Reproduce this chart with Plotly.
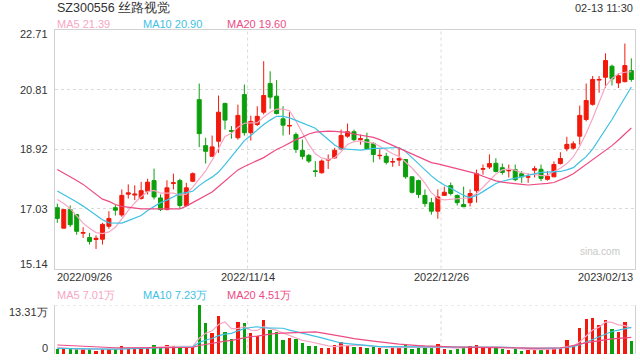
import plotly.graph_objects as go

# ---------------- data ----------------
title_text = "SZ300556 丝路视觉"
time_text = "02-13 11:30"
date_labels = ["2022/09/26", "2022/11/14", "2022/12/26", "2023/02/13"]
date_label_idx = [0, 30, 60, 89]
price_ticks = [15.14, 17.03, 18.92, 20.81, 22.71]
vol_ticks = [0, 13.31]

opens = [17.07, 16.42, 17.01, 16.85, 16.26, 16.12, 16.06, 16.07, 16.48, 17.07,
         16.84, 17.50, 17.47, 17.36, 17.59, 17.93, 17.38, 17.01, 17.84, 17.93,
         17.14, 17.91, 20.50, 19.04, 18.70, 19.18, 20.38, 19.52, 19.29, 20.66,
         19.45, 19.71, 20.10, 21.01, 20.61, 19.89, 19.66, 19.39, 18.89, 18.73,
         18.24, 18.18, 18.58, 18.65, 18.94, 19.34, 19.48, 19.23, 19.23, 19.11,
         18.72, 18.70, 18.52, 18.58, 18.60, 18.05, 17.93, 17.46, 17.23, 16.96,
         17.46, 17.77, 17.46, 17.17, 17.23, 17.61, 18.29, 18.36, 18.48, 18.34,
         18.24, 18.28, 18.15, 18.04, 18.26, 18.29, 17.97, 18.05, 18.47, 18.94,
         18.96, 19.34, 19.87, 20.35, 21.12, 21.21, 21.56, 21.03, 21.07, 21.42]
highs = [17.20, 17.03, 17.14, 16.85, 16.45, 16.27, 16.19, 16.59, 16.96, 17.16,
         17.65, 17.81, 17.78, 17.89, 17.99, 18.31, 17.49, 17.94, 18.15, 17.99,
         17.86, 18.19, 21.01, 19.29, 19.36, 20.63, 20.40, 19.66, 20.34, 20.98,
         19.99, 20.29, 21.72, 21.40, 21.12, 20.29, 20.10, 19.46, 19.23, 18.78,
         18.55, 18.60, 18.76, 18.97, 19.55, 19.74, 19.55, 19.39, 19.45, 19.15,
         18.92, 18.81, 18.65, 18.94, 18.60, 18.07, 17.96, 17.65, 17.38, 17.65,
         17.74, 17.87, 17.49, 17.74, 17.65, 18.28, 18.44, 18.76, 18.64, 18.47,
         18.44, 18.44, 18.23, 18.16, 18.39, 18.44, 18.23, 18.54, 18.83, 19.32,
         19.18, 20.31, 21.01, 21.25, 21.25, 21.97, 21.61, 21.34, 22.28, 21.81]
lows = [16.59, 16.42, 16.46, 16.21, 16.11, 15.90, 15.76, 15.90, 16.40, 16.82,
        16.78, 17.36, 17.31, 17.33, 17.49, 17.33, 16.96, 16.99, 17.65, 17.03,
        17.12, 17.88, 18.99, 18.47, 18.68, 18.81, 19.55, 19.26, 19.23, 19.36,
        19.20, 19.66, 20.03, 20.21, 20.03, 19.36, 19.39, 18.81, 18.60, 18.49,
        18.05, 18.15, 18.30, 18.62, 18.89, 19.29, 19.15, 19.07, 18.92, 18.51,
        18.60, 18.44, 18.37, 18.39, 17.99, 17.52, 17.38, 17.10, 16.85, 16.72,
        17.46, 17.46, 17.14, 17.10, 17.11, 17.23, 18.12, 18.30, 18.19, 18.12,
        18.03, 17.91, 17.86, 17.86, 18.03, 17.91, 17.93, 18.04, 18.44, 18.86,
        18.92, 19.07, 19.81, 20.31, 20.72, 20.87, 20.95, 20.87, 21.05, 21.07]
closes = [16.73, 17.01, 16.53, 16.32, 16.28, 16.00, 16.10, 16.54, 16.73, 16.99,
          17.46, 17.54, 17.50, 17.61, 17.88, 17.41, 17.01, 17.70, 17.86, 17.14,
          17.70, 18.15, 19.42, 18.86, 19.00, 20.10, 19.85, 19.49, 20.00, 19.45,
          19.81, 19.97, 20.63, 20.58, 20.06, 19.69, 19.68, 18.92, 18.70, 18.55,
          18.22, 18.55, 18.60, 18.89, 19.36, 19.48, 19.23, 19.26, 18.94, 18.76,
          18.73, 18.51, 18.53, 18.63, 18.05, 17.56, 17.49, 17.20, 16.96, 17.41,
          17.56, 17.52, 17.23, 17.10, 17.52, 18.15, 18.31, 18.47, 18.22, 18.19,
          18.25, 17.96, 18.05, 18.05, 18.31, 18.00, 18.07, 18.44, 18.63, 19.08,
          19.10, 20.00, 20.47, 21.14, 21.14, 21.74, 21.16, 21.26, 21.58, 21.14]

ma5 = [17.33, 17.20, 17.04, 16.82, 16.58, 16.42, 16.28, 16.25, 16.30, 16.45,
       16.72, 16.98, 17.22, 17.42, 17.58, 17.62, 17.53, 17.53, 17.53, 17.47,
       17.50, 17.72, 17.98, 18.24, 18.58, 18.95, 19.33, 19.43, 19.62, 19.75,
       19.75, 19.77, 19.95, 20.10, 20.20, 20.20, 20.15, 19.82, 19.44, 19.08,
       18.78, 18.65, 18.60, 18.66, 18.84, 19.08, 19.17, 19.19, 19.15, 19.12,
       19.02, 18.90, 18.78, 18.70, 18.53, 18.33, 18.10, 17.85, 17.55, 17.36,
       17.32, 17.33, 17.35, 17.37, 17.39, 17.52, 17.72, 17.94, 18.14, 18.27,
       18.30, 18.26, 18.18, 18.14, 18.13, 18.09, 18.10, 18.22, 18.32, 18.47,
       18.68, 19.02, 19.43, 19.90, 20.42, 20.92, 21.17, 21.32, 21.37, 21.39]
ma10 = [17.60, 17.49, 17.37, 17.25, 17.12, 16.98, 16.84, 16.69, 16.59, 16.58,
        16.58, 16.66, 16.74, 16.82, 16.98, 17.11, 17.23, 17.31, 17.41, 17.52,
        17.55, 17.59, 17.77, 17.92, 18.04, 18.20, 18.44, 18.69, 18.95, 19.20,
        19.36, 19.55, 19.71, 19.85, 19.97, 19.97, 19.92, 19.84, 19.76, 19.68,
        19.59, 19.41, 19.23, 19.06, 18.94, 18.92, 18.90, 18.90, 18.92, 18.95,
        18.95, 18.96, 18.97, 18.98, 18.85, 18.65, 18.46, 18.27, 18.08, 17.92,
        17.79, 17.69, 17.58, 17.46, 17.39, 17.46, 17.58, 17.72, 17.84, 17.91,
        17.96, 18.01, 18.06, 18.11, 18.16, 18.19, 18.20, 18.21, 18.22, 18.27,
        18.34, 18.52, 18.69, 18.93, 19.24, 19.55, 19.87, 20.22, 20.57, 20.90]
ma20 = [18.28, 18.17, 18.06, 17.93, 17.81, 17.65, 17.49, 17.34, 17.27, 17.17,
        17.11, 17.08, 17.04, 17.03, 17.03, 17.03, 17.03, 17.03, 17.03, 17.03,
        17.12, 17.23, 17.34, 17.46, 17.57, 17.74, 17.92, 18.09, 18.27, 18.38,
        18.47, 18.57, 18.66, 18.79, 18.92, 19.01, 19.12, 19.23, 19.31, 19.41,
        19.47, 19.49, 19.50, 19.49, 19.47, 19.46, 19.41, 19.38, 19.35, 19.30,
        19.23, 19.14, 19.04, 18.96, 18.87, 18.77, 18.68, 18.58, 18.50, 18.46,
        18.41, 18.36, 18.31, 18.27, 18.22, 18.15, 18.07, 18.00, 17.92, 17.88,
        17.85, 17.82, 17.81, 17.79, 17.80, 17.81, 17.84, 17.87, 17.95, 18.04,
        18.15, 18.30, 18.44, 18.60, 18.73, 18.88, 19.04, 19.22, 19.41, 19.60]

volumes = [1.27, 1.27, 1.27, 1.54, 1.27, 1.27, 0.90, 1.27, 1.27, 1.27,
           2.17, 1.72, 1.72, 1.72, 1.72, 2.44, 1.72, 2.44, 2.17, 1.99,
           1.72, 1.99, 13.31, 8.50, 5.62, 10.32, 5.89, 4.07, 8.69, 8.33,
           5.78, 4.89, 9.23, 6.52, 6.06, 3.80, 4.26, 3.99, 3.07, 2.17,
           2.17, 1.72, 1.72, 2.44, 3.35, 2.26, 1.99, 1.99, 1.72, 1.99,
           1.72, 1.45, 1.72, 1.72, 2.35, 1.45, 1.72, 1.54, 1.54, 2.72,
           1.45, 1.09, 1.45, 1.72, 2.26, 2.44, 1.72, 1.99, 1.72, 1.45,
           1.18, 1.45, 0.90, 1.09, 1.45, 1.09, 1.45, 1.72, 1.72, 3.80,
           2.44, 6.98, 9.42, 9.86, 7.88, 9.23, 6.79, 6.06, 8.69, 3.53]
vol_ma5 = [1.80, 1.60, 1.40, 1.35, 1.30, 1.30, 1.20, 1.20, 1.20, 1.20,
           1.40, 1.50, 1.60, 1.80, 1.80, 1.90, 1.90, 2.00, 2.10, 2.10,
           2.10, 2.10, 4.30, 5.60, 6.30, 8.00, 8.70, 6.90, 6.90, 7.40,
           6.50, 6.40, 7.40, 7.00, 6.40, 5.70, 5.00, 4.20, 3.70, 3.40,
           3.10, 2.60, 2.20, 2.00, 2.20, 2.30, 2.30, 2.40, 2.30, 2.00,
           1.90, 1.80, 1.70, 1.70, 1.80, 1.70, 1.80, 1.80, 1.70, 1.90,
           1.80, 1.60, 1.60, 1.70, 1.80, 1.80, 1.90, 2.00, 2.00, 1.90,
           1.60, 1.50, 1.40, 1.20, 1.20, 1.20, 1.20, 1.40, 1.50, 2.00,
           2.20, 3.30, 4.90, 6.50, 7.30, 8.70, 8.60, 7.90, 7.70, 7.01]
vol_ma10 = [1.55, 1.50, 1.45, 1.40, 1.40, 1.35, 1.30, 1.30, 1.30, 1.30,
            1.35, 1.40, 1.45, 1.50, 1.55, 1.65, 1.70, 1.80, 1.85, 1.90,
            1.90, 1.95, 3.10, 3.80, 4.20, 5.00, 5.40, 5.60, 6.30, 6.90,
            7.20, 7.40, 7.10, 7.00, 7.00, 7.00, 6.50, 6.10, 5.80, 5.40,
            5.00, 4.40, 3.90, 3.40, 3.00, 2.80, 2.60, 2.40, 2.30, 2.20,
            2.00, 2.00, 2.00, 1.90, 1.90, 1.90, 1.90, 1.80, 1.80, 1.90,
            1.90, 1.80, 1.80, 1.80, 1.80, 1.80, 1.85, 1.85, 1.85, 1.90,
            1.80, 1.70, 1.60, 1.60, 1.55, 1.55, 1.55, 1.60, 1.65, 1.80,
            2.00, 2.50, 3.20, 4.10, 4.70, 5.50, 6.10, 6.50, 6.90, 7.23]
vol_ma20 = [2.44, 2.35, 2.25, 2.15, 2.05, 1.95, 1.85, 1.80, 1.75, 1.70,
            1.70, 1.70, 1.70, 1.65, 1.65, 1.65, 1.65, 1.70, 1.70, 1.70,
            1.75, 1.80, 2.30, 2.65, 2.85, 3.25, 3.50, 3.70, 4.05, 4.40,
            4.70, 4.85, 5.20, 5.40, 5.60, 5.70, 5.80, 5.85, 5.90, 5.95,
            6.00, 5.75, 5.40, 5.00, 4.80, 4.50, 4.20, 3.90, 3.70, 3.50,
            3.30, 3.20, 2.90, 2.70, 2.50, 2.40, 2.30, 2.20, 2.10, 2.00,
            2.00, 1.95, 1.90, 1.85, 1.85, 1.80, 1.75, 1.70, 1.70, 1.70,
            1.70, 1.65, 1.65, 1.60, 1.60, 1.60, 1.60, 1.65, 1.70, 1.90,
            2.40, 2.70, 3.10, 3.40, 3.70, 3.95, 4.10, 4.25, 4.40, 4.51]

# ---------------- styles ----------------
W, H = 640, 360
RED = "#f2190c"
GREEN = "#0c9f0c"
C_MA5 = "#f7a6c4"
C_MA10 = "#3fc1e4"
C_MA20 = "#ee4b84"
FRAME = "#d2d2d2"
GRID = "#d9d9d9"
TXT = "#333333"
FONT = "Liberation Sans, Arial, sans-serif"

def px(x):
    return x / W

def py(y):
    return 1 - y / H

n = len(closes)
idx = list(range(n))
x_range = [-0.36, n - 1 + 0.57]

fig = go.Figure()

fig.add_trace(go.Candlestick(
    x=idx, open=opens, high=highs, low=lows, close=closes,
    xaxis="x", yaxis="y",
    increasing=dict(line=dict(color=RED, width=1), fillcolor=RED),
    decreasing=dict(line=dict(color=GREEN, width=1), fillcolor=GREEN),
    whiskerwidth=0, showlegend=False, hoverinfo="skip",
))
for vals, col in [(ma5, C_MA5), (ma10, C_MA10), (ma20, C_MA20)]:
    fig.add_trace(go.Scatter(x=idx, y=vals, mode="lines", xaxis="x", yaxis="y",
                             line=dict(color=col, width=1.2), showlegend=False,
                             hoverinfo="skip"))

bar_colors = [RED if c >= o else GREEN for o, c in zip(opens, closes)]
fig.add_trace(go.Bar(x=idx, y=volumes, xaxis="x2", yaxis="y2", width=0.52,
                     marker=dict(color=bar_colors, line=dict(width=0)),
                     showlegend=False, hoverinfo="skip"))
for vals, col in [(vol_ma5, C_MA5), (vol_ma10, C_MA10), (vol_ma20, C_MA20)]:
    fig.add_trace(go.Scatter(x=idx, y=vals, mode="lines", xaxis="x2", yaxis="y2",
                             line=dict(color=col, width=1.2), showlegend=False,
                             hoverinfo="skip"))

xdom = [px(55), px(635)]
fig.update_layout(
    width=W, height=H,
    margin=dict(l=0, r=0, t=0, b=0),
    paper_bgcolor="white", plot_bgcolor="white",
    font=dict(family=FONT, size=11, color=TXT),
    boxgap=0.38, boxgroupgap=0,
    xaxis=dict(domain=xdom, range=x_range, anchor="y", showgrid=False,
               showticklabels=False, zeroline=False, showline=True, mirror=True,
               linecolor=FRAME, linewidth=1, ticks="",
               rangeslider=dict(visible=False)),
    yaxis=dict(domain=[py(268.5), py(30)], range=[price_ticks[0], price_ticks[-1]],
               anchor="x", tickvals=price_ticks[1:-1], showgrid=True,
               gridcolor=GRID, griddash="dot", gridwidth=1,
               showticklabels=False, zeroline=False, showline=True, mirror=True,
               linecolor=FRAME, linewidth=1, ticks=""),
    xaxis2=dict(domain=xdom, range=x_range, anchor="y2", showgrid=False,
                showticklabels=False, zeroline=False, showline=False, ticks=""),
    yaxis2=dict(domain=[py(354), py(305)], range=[vol_ticks[0], vol_ticks[-1]],
                anchor="x2", showgrid=False, showticklabels=False,
                zeroline=False, showline=True, mirror=True, linecolor=FRAME,
                linewidth=1, ticks=""),
    bargap=0,
)

shapes = []
# vertical dashed date grid lines in both panels
for lab_i, d_i in enumerate(date_label_idx[1:-1]):
    for xr, yr in [("x", "y domain"), ("x2", "y2 domain")]:
        shapes.append(dict(type="line", xref=xr, yref=yr, x0=d_i - 0.5, x1=d_i - 0.5,
                           y0=0, y1=1, line=dict(color=GRID, width=1, dash="dot"),
                           layer="below"))
# volume panel top and bottom dotted borders
for v in vol_ticks:
    shapes.append(dict(type="line", xref="x2 domain", yref="y2", x0=0, x1=1,
                       y0=v, y1=v, line=dict(color=GRID, width=1, dash="dot"),
                       layer="below"))
fig.update_layout(shapes=shapes)

ann = []
# title and time
ann.append(dict(text=title_text, x=px(55), y=py(8), xref="paper", yref="paper",
                xanchor="left", yanchor="middle", showarrow=False,
                font=dict(size=12.5, color=TXT)))
ann.append(dict(text=time_text, x=px(635), y=py(8), xref="paper", yref="paper",
                xanchor="right", yanchor="middle", showarrow=False,
                font=dict(size=11, color=TXT)))
# MA legends
for xpos, name, vals, col in [(55, "MA5", ma5, C_MA5), (141, "MA10", ma10, C_MA10),
                              (225, "MA20", ma20, C_MA20)]:
    ann.append(dict(text=f"{name} {vals[-1]:.2f}", x=px(xpos), y=py(24),
                    xref="paper", yref="paper", xanchor="left", yanchor="middle",
                    showarrow=False, font=dict(size=11, color=col)))
for xpos, name, vals, col in [(55, "MA5", vol_ma5, C_MA5), (141, "MA10", vol_ma10, C_MA10),
                              (225, "MA20", vol_ma20, C_MA20)]:
    ann.append(dict(text=f"{name} {vals[-1]:.2f}万", x=px(xpos), y=py(295),
                    xref="paper", yref="paper", xanchor="left", yanchor="middle",
                    showarrow=False, font=dict(size=11, color=col)))
# price tick labels
for k, v in enumerate(price_ticks):
    shift = 0
    if k == len(price_ticks) - 1:
        shift = -4
    elif k == 0:
        shift = 5
    ann.append(dict(text=f"{v:.2f}", x=px(50), y=v, xref="paper", yref="y",
                    xanchor="right", yanchor="middle", yshift=shift, showarrow=False,
                    font=dict(size=11, color=TXT)))
# volume tick labels
ann.append(dict(text=f"{vol_ticks[-1]:.2f}万", x=px(50), y=vol_ticks[-1], xref="paper",
                yref="y2", xanchor="right", yanchor="middle", yshift=-7,
                showarrow=False, font=dict(size=11, color=TXT)))
ann.append(dict(text=f"{vol_ticks[0]}", x=px(50), y=vol_ticks[0], xref="paper",
                yref="y2", xanchor="right", yanchor="middle", yshift=6,
                showarrow=False, font=dict(size=11, color=TXT)))
# date labels
for k, (lab, d_i) in enumerate(zip(date_labels, date_label_idx)):
    if k == 0:
        a = dict(x=0, xref="x domain", xanchor="left")
    elif k == len(date_labels) - 1:
        a = dict(x=1, xref="x domain", xanchor="right")
    else:
        a = dict(x=d_i - 0.5, xref="x", xanchor="center")
    a.update(text=lab, y=py(277), yref="paper", yanchor="middle", showarrow=False,
             font=dict(size=11, color=TXT))
    ann.append(a)
# watermark
ann.append(dict(text="sina.com", x=px(600), y=py(252), xref="paper", yref="paper",
                xanchor="center", yanchor="middle", showarrow=False,
                font=dict(size=10, color="#c8c8c8")))
fig.update_layout(annotations=ann)

fig.write_html("out.html", config=dict(displayModeBar=False))
